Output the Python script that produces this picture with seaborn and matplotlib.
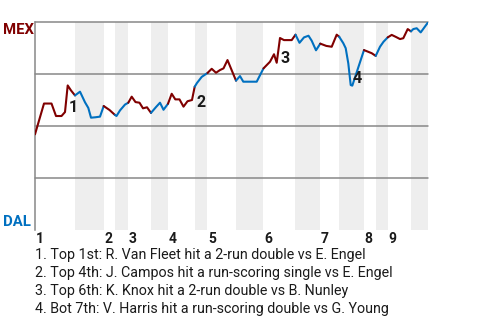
import numpy as np
import pandas as pd
import matplotlib
matplotlib.use("Agg")
import matplotlib.pyplot as plt
import seaborn as sns

# ---------------- data ----------------
# game progress (x) and Mexico win probability (%) after each play
play_x = [0, 9, 16.5, 21, 26.5, 30, 32.7, 36, 40,
          45, 50, 53.3, 56, 60.5, 65, 68.7,
          74.5, 80,
          81.5, 85, 90, 93.3,
          96.7, 100.5, 104.5, 108, 112, 116,
          121, 125, 128.5, 133,
          136.7, 140.3, 144.5, 148.5, 152.5, 157, 159.7,
          162, 166.7, 172.5,
          176.7, 181, 185, 188.5, 192.5, 201,
          205, 208.3, 221.7, 228.5,
          235, 239, 241.7, 245, 249, 256.7, 260.5,
          264.5, 269, 273.5, 276.7, 281, 285.3,
          291.3, 296.7, 301.7, 304.2,
          308.3, 310.7, 313.3, 315.7, 317.3, 329,
          336.7, 340.7,
          345, 348.5, 352.7,
          356.7, 361, 365, 368.3, 372.7, 376,
          378.3, 381.7, 385.7, 393.3]
mex_wp = [46.0, 60.8, 60.8, 54.8, 54.8, 56.7, 69.5, 67.1, 64.7,
          66.5, 61.4, 58.7, 54.0, 54.2, 54.5, 59.6,
          57.7, 55.3,
          54.8, 57.5, 60.3, 61.2,
          64.1, 61.5, 61.2, 58.5, 59.0, 56.3,
          59.1, 61.2, 57.8, 60.7,
          65.5, 62.8, 62.8, 59.3, 61.9, 62.5, 68.9,
          70.7, 73.6, 75.5,
          77.5, 75.6, 76.9, 77.7, 81.7, 71.8,
          74.0, 71.3, 71.3, 77.7,
          80.9, 84.5, 80.4, 92.3, 91.3, 91.3, 93.9,
          90.0, 92.6, 93.4, 91.0, 86.4, 89.6,
          88.5, 88.1, 93.9, 92.9,
          89.8, 87.4, 80.1, 69.7, 69.4, 86.5,
          85.0, 83.7,
          88.1, 90.5, 92.6,
          93.8, 92.8, 91.8, 92.2, 96.6, 95.5,
          96.6, 97.0, 95.0, 100.0]
half_counts = [9, 7, 2, 4, 6, 4, 7, 3, 6, 4, 7, 6, 4, 6, 2, 3, 6, 4]
half_names = ["T1", "B1", "T2", "B2", "T3", "B3", "T4", "B4", "T5",
              "B5", "T6", "B6", "T7", "B7", "T8", "B8", "T9", "B9"]

event_x = [32.7, 159.7, 245, 315.7]
event_labels = ["1", "2", "3", "4"]
event_texts = [
    "1. Top 1st: R. Van Fleet hit a 2-run double vs E. Engel",
    "2. Top 4th: J. Campos hit a run-scoring single vs E. Engel",
    "3. Top 6th: K. Knox hit a 2-run double vs B. Nunley",
    "4. Bot 7th: V. Harris hit a run-scoring double vs G. Young",
]
team_top, team_bottom = "MEX", "DAL"

# ---------------- style ----------------
RED = "#800000"
BLUE = "#0070C0"
BAND = "#eeeeee"
GRID = "#888888"
TXT = "#1a1a1a"

sns.set_theme(style="white")
plt.rcParams["font.family"] = ["Roboto", "DejaVu Sans"]

halves = []
for name, n in zip(half_names, half_counts):
    halves += [name] * n
df = pd.DataFrame({"x": play_x, "wp": mex_wp, "half": halves})

fig = plt.figure(figsize=(4.8, 3.2), dpi=100)
W, H = 480, 320
ax = fig.add_axes([35 / W, 90 / H, 393.3 / W, 208 / H])
ax.set_xlim(0, df["x"].max())
ax.set_ylim(0, 100)

# shaded bottom halves
ends = df.groupby("half", sort=False)["x"].max()
prev_end = 0
for name in half_names:
    end = ends[name]
    if name.startswith("B"):
        ax.axvspan(prev_end, end, color=BAND, lw=0, zorder=0)
    prev_end = end

# grid lines
for g in [25, 50, 75, 100]:
    ax.axhline(g, color=GRID, lw=1.1, zorder=1, clip_on=False)

# line segments per half inning
idx = 0
for name, n in zip(half_names, half_counts):
    lo = max(idx - 1, 0)
    seg = df.iloc[lo: idx + n]
    sns.lineplot(data=seg, x="x", y="wp", sort=False, estimator=None,
                 color=RED if name.startswith("T") else BLUE,
                 lw=1.5, ax=ax, zorder=3, legend=False)
    idx += n

# event markers
offsets = [(1.0, 0.0), (1.0, -5.0), (0.3, 0.0), (1.0, 1.2)]
xs = np.array(play_x)
for ex, lab, off in zip(event_x, event_labels, offsets):
    i = int(np.argmin(np.abs(xs - ex)))
    y = min(mex_wp[i - 1], mex_wp[i])
    ax.annotate(lab, xy=(play_x[i], y), xytext=off, textcoords="offset points",
                ha="left", va="baseline", fontsize=11.5, fontweight="bold",
                color=TXT, zorder=4)

# inning labels at start of each top half
starts = [0]
prev_end = 0
for name in half_names:
    if name.startswith("T") and name != "T1":
        starts.append(prev_end)
    prev_end = ends[name]
for k, s in enumerate(starts):
    ax.annotate(str(k + 1), xy=(s, 0), xycoords=("data", "axes fraction"),
                xytext=(0.5, -9.3), textcoords="offset points",
                ha="left", va="baseline", fontsize=10, fontweight="bold",
                color=TXT, annotation_clip=False)

# spines
for sp in ["top", "right", "bottom"]:
    ax.spines[sp].set_visible(False)
ax.spines["left"].set_color(GRID)
ax.spines["left"].set_linewidth(1.1)
ax.set_xticks([])
ax.set_yticks([])
ax.set_xlabel("")
ax.set_ylabel("")

# team labels
fig.text(3 / W, 1 - 34 / H, team_top, color=RED, fontsize=10.7,
         fontweight="bold", ha="left", va="baseline")
fig.text(3 / W, 1 - 226 / H, team_bottom, color=BLUE, fontsize=10.7,
         fontweight="bold", ha="left", va="baseline")

# event descriptions
for k, t in enumerate(event_texts):
    fig.text(35 / W, 1 - (258.5 + 18 * k) / H, t, color=TXT, fontsize=10.3,
             ha="left", va="baseline")

fig.savefig("out.png", dpi=100)
